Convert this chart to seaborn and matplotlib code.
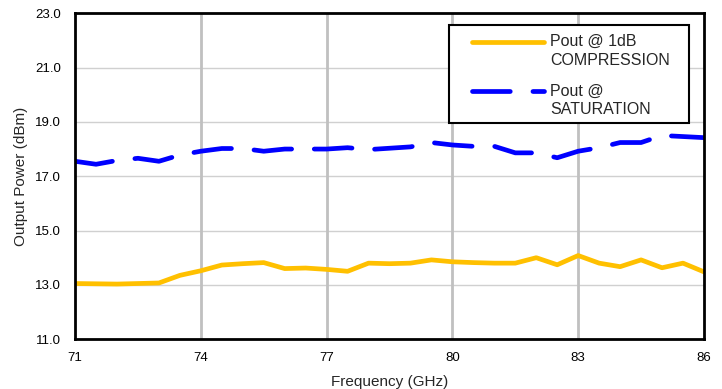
import numpy as np
import pandas as pd
import matplotlib
matplotlib.use('Agg')
import matplotlib.pyplot as plt
import matplotlib.patches as mpatches
from matplotlib.lines import Line2D
from matplotlib.legend_handler import HandlerLine2D
import seaborn as sns

freq = np.arange(71, 86.01, 0.5)
p1db = [13.05, 13.04, 13.03, 13.05, 13.07, 13.35, 13.52, 13.73, 13.78, 13.82,
        13.60, 13.62, 13.57, 13.50, 13.80, 13.78, 13.80, 13.92, 13.85, 13.82,
        13.80, 13.80, 14.00, 13.74, 14.08, 13.80, 13.67, 13.92, 13.63, 13.80,
        13.48]
psat = [17.55, 17.44, 17.58, 17.66, 17.55, 17.78, 17.92, 18.02, 18.02, 17.92,
        18.00, 18.00, 18.00, 18.05, 17.98, 18.03, 18.08, 18.24, 18.15, 18.10,
        18.10, 17.86, 17.86, 17.68, 17.92, 18.05, 18.24, 18.24, 18.50, 18.46,
        18.42]
labels = ['Pout @ 1dB\nCOMPRESSION', 'Pout @\nSATURATION']
xticks = [71, 74, 77, 80, 83, 86]
yticks = [11, 13, 15, 17, 19, 21, 23]

df = pd.DataFrame({'freq': freq, labels[0]: p1db, labels[1]: psat})
df = df.melt(id_vars='freq', var_name='series', value_name='pout')


# legend handle sits next to the first line of a two-line label
class TopLineHandler(HandlerLine2D):
    def create_artists(self, legend, orig_handle, xdescent, ydescent,
                       width, height, fontsize, trans):
        arts = super().create_artists(legend, orig_handle, xdescent, ydescent,
                                      width, height, fontsize, trans)
        for a in arts:
            a.set_ydata(np.asarray(a.get_ydata()) + 0.6 * fontsize)
        return arts


sns.set_style('white')
plt.rcParams['font.family'] = ['Liberation Sans', 'DejaVu Sans']

fig, ax = plt.subplots(figsize=(7.22, 3.89), dpi=100)
fig.subplots_adjust(left=0.104, right=0.975, top=0.966, bottom=0.128)

sns.lineplot(data=df, x='freq', y='pout', hue='series', style='series',
             palette=['#FFC000', '#0000FF'], dashes=[(None, None), (8, 4.8)],
             linewidth=3.4, ax=ax)
for ln in ax.get_lines():
    ln.set_dash_capstyle('round')
    ln.set_solid_capstyle('round')

ax.set_xlim(71, 86)
ax.set_ylim(11, 23)
ax.set_xticks(xticks)
ax.set_yticks(yticks)
ax.set_yticklabels([f'{v:.1f}' for v in yticks])
ax.tick_params(axis='both', labelsize=9.5, length=3, width=1.5, direction='out',
               colors='black', pad=7)
ax.tick_params(axis='x', pad=6)

for y in yticks[1:-1]:
    ax.axhline(y, color='#d0d0d0', linewidth=1, zorder=0)
for x in xticks[1:-1]:
    ax.axvline(x, color='#c0c0c0', linewidth=2, zorder=0)

for s in ax.spines.values():
    s.set_color('black')
    s.set_linewidth(2)
    s.set_visible(True)

ax.set_xlabel('Frequency (GHz)', fontsize=11, labelpad=8)
ax.set_ylabel('Output Power (dBm)', fontsize=11, labelpad=5)

leg = ax.legend(loc='upper left', bbox_to_anchor=(0.631, 0.936), fontsize=11.5,
                frameon=False, handlelength=4.5, handletextpad=0.4,
                labelspacing=1.0, borderpad=0, borderaxespad=0,
                handler_map={Line2D: TopLineHandler()})
for h in leg.get_lines():
    h.set_linewidth(3.4)
    h.set_dash_capstyle('round')
    h.set_solid_capstyle('round')
for t in leg.get_texts():
    t.set_linespacing(1.3)

frame = mpatches.Rectangle((0.595, 0.663), 0.381, 0.300, transform=ax.transAxes,
                           fill=True, facecolor='white', edgecolor='black',
                           linewidth=1.5, zorder=4)
ax.add_patch(frame)
leg.set_zorder(5)

plt.savefig('out.png', dpi=100)
